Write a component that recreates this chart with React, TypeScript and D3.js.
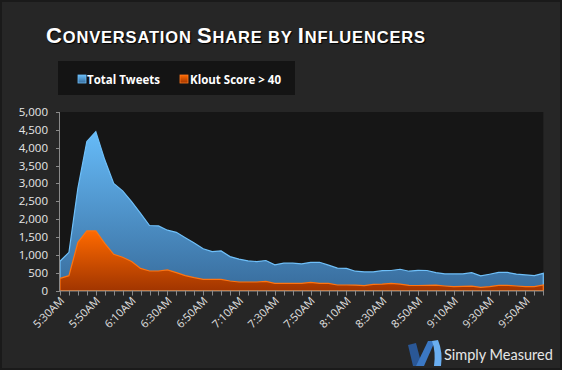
import React from 'react';
import * as d3 from 'd3';

// 5-minute buckets from 5:30AM to 10:00AM
const totalTweets = [
  820, 1070, 2870, 4170, 4450, 3660, 3000, 2790, 2490, 2160,
  1820, 1810, 1690, 1630, 1480, 1330, 1170, 1090, 1110, 950,
  880, 830, 810, 840, 720, 765, 765, 745, 790, 790,
  710, 625, 620, 540, 520, 520, 555, 560, 595, 540,
  565, 560, 500, 465, 465, 465, 500, 410, 455, 505,
  505, 460, 435, 415, 480,
];
const kloutOver40 = [
  340, 415, 1350, 1670, 1670, 1320, 1015, 930, 810, 620,
  546, 546, 575, 500, 415, 360, 313, 313, 313, 266,
  238, 238, 238, 257, 200, 200, 200, 200, 230, 200,
  200, 154, 154, 150, 135, 173, 180, 200, 180, 145,
  140, 145, 150, 126, 107, 115, 120, 90, 107, 145,
  145, 126, 107, 107, 154,
];
const seriesNames = ['Total Tweets', 'Klout Score > 40'];
const xTickLabels = [
  '5:30AM', '5:50AM', '6:10AM', '6:30AM', '6:50AM', '7:10AM', '7:30AM',
  '7:50AM', '8:10AM', '8:30AM', '8:50AM', '9:10AM', '9:30AM', '9:50AM',
];
const labelEvery = 4;
const yTicks = [0, 500, 1000, 1500, 2000, 2500, 3000, 3500, 4000, 4500, 5000];

const W = 562;
const H = 370;
const plot = { left: 60, right: 543.3, top: 112, bottom: 290.5 };
const font = '"Open Sans", "DejaVu Sans", sans-serif';

export default function App() {
  const x = d3.scaleLinear().domain([0, totalTweets.length - 1]).range([plot.left, plot.right]);
  const y = d3.scaleLinear().domain([0, 5000]).range([plot.bottom, plot.top]);
  const fmt = d3.format(',');

  const area = d3.area<number>()
    .x((_, i) => x(i))
    .y0(y(0))
    .y1(d => y(d));

  const titleParts: [string, boolean][] = [
    ['C', true], ['ONVERSATION ', false], ['S', true], ['HARE BY ', false], ['I', true], ['NFLUENCERS', false],
  ];

  return (
    <div style={{ position: 'absolute', left: 0, top: 0 }}>
      <svg width={W} height={H} style={{ display: 'block' }}>
        <defs>
          <linearGradient id="gBlue" x1="0" y1="0" x2="0" y2="1">
            <stop offset="0" stopColor="#66bbf8" />
            <stop offset="1" stopColor="#386c9c" />
          </linearGradient>
          <linearGradient id="gOrange" x1="0" y1="0" x2="0" y2="1">
            <stop offset="0" stopColor="#ff6a00" />
            <stop offset="1" stopColor="#a13500" />
          </linearGradient>
        </defs>
        <rect width={W} height={H} fill="#1a1a1a" />
        <rect x={2} y={2} width={W - 4} height={H - 4} fill="#262626" />

        <text x={46} y={42.5} fill="#ffffff" fontFamily='"Liberation Sans", Arial, sans-serif'
          fontWeight="bold" textLength={379} lengthAdjust="spacing"
          style={{ textShadow: '1px 1px 1px #000' }}>
          {titleParts.map(([t, big], i) => (
            <tspan key={i} fontSize={big ? 22 : 16.5}>{t}</tspan>
          ))}
        </text>

        <rect x={58} y={61} width={237} height={34} fill="#141414" />
        <rect x={78} y={75} width={8} height={8} fill="url(#gBlue)" stroke="#6ebdf8" strokeWidth={0.8} />
        <text x={87} y={83.5} fill="#fff" fontFamily={font} fontWeight="bold" fontSize={13}
          textLength={73} lengthAdjust="spacingAndGlyphs">{seriesNames[0]}</text>
        <rect x={180} y={75} width={8} height={8} fill="url(#gOrange)" stroke="#ff7a20" strokeWidth={0.8} />
        <text x={190} y={83.5} fill="#fff" fontFamily={font} fontWeight="bold" fontSize={13}
          textLength={91} lengthAdjust="spacingAndGlyphs">{seriesNames[1]}</text>

        <rect x={plot.left} y={plot.top} width={plot.right - plot.left} height={plot.bottom - plot.top} fill="#161616" />

        <path d={area(totalTweets) ?? ''} fill="url(#gBlue)" stroke="#6fc0fa" strokeWidth={1.2} />
        <path d={area(kloutOver40) ?? ''} fill="url(#gOrange)" stroke="#ff7410" strokeWidth={1.2} />

        {/* y axis */}
        <line x1={plot.left - 0.5} x2={plot.left - 0.5} y1={plot.top} y2={plot.bottom} stroke="#8a8a8a" />
        {yTicks.map(t => (
          <g key={t}>
            <line x1={plot.left - 4} x2={plot.left} y1={Math.round(y(t)) + 0.5} y2={Math.round(y(t)) + 0.5} stroke="#8a8a8a" />
            <text x={48} y={y(t)} dy="0.35em" textAnchor="end" fill="#e6e6e6" fontFamily={font} fontSize={11.5}>{fmt(t)}</text>
          </g>
        ))}

        {/* x axis */}
        <line x1={plot.left - 1} x2={plot.right} y1={plot.bottom + 0.5} y2={plot.bottom + 0.5} stroke="#8a8a8a" />
        {totalTweets.map((_, i) => (
          <line key={i} x1={Math.round(x(i)) + 0.5} x2={Math.round(x(i)) + 0.5} y1={plot.bottom} y2={plot.bottom + 5} stroke="#8a8a8a" />
        ))}
        {xTickLabels.map((lab, k) => (
          <text key={lab} transform={`translate(${x(k * labelEvery) + 5},${plot.bottom + 11}) rotate(-45)`}
            textAnchor="end" fill="#e0e0e0" fontFamily={font} fontSize={11}>{lab}</text>
        ))}

        {/* logo */}
        <g>
          <path d="M408,345 L416,343 L422,366 L413,366 Z" fill="#2a5796" />
          <path d="M416,366 L428,341 L435,341 L424,366 Z" fill="#3b78c4" />
          <path d="M432,341 L438,340 Q443,352 441,366 L434,366 Q436,352 432,341 Z" fill="#6aaef0" />
        </g>
        <text x={444} y={360} fill="#e6e6e6" fontFamily='Lato, "Open Sans", sans-serif' fontSize={14.5}>Simply Measured</text>
      </svg>
    </div>
  );
}
